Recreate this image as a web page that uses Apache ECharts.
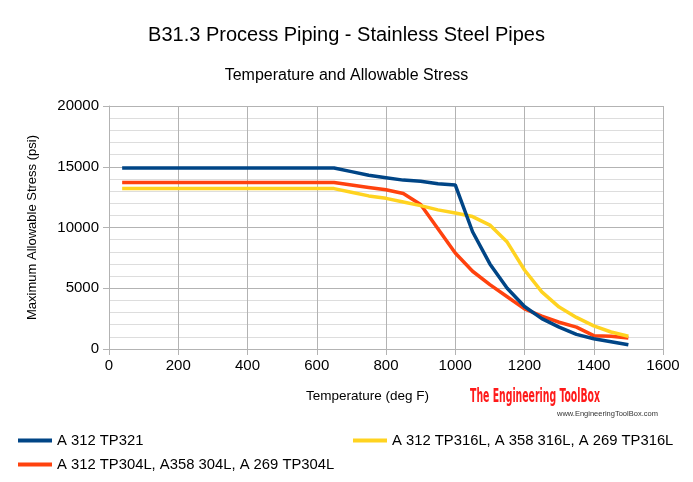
<!DOCTYPE html>
<html><head><meta charset="utf-8">
<script src="https://cdn.jsdelivr.net/npm/echarts@6/dist/echarts.min.js"></script>
<style>html,body{margin:0;padding:0;background:#fff}#c{width:693px;height:482px}</style>
</head><body><div id="c"></div>
<script>
const temps = [38,100,200,300,400,500,600,650,700,750,800,850,900,950,1000,1050,1100,1150,1200,1250,1300,1350,1400,1450,1500];
const tp321 = [14900,14900,14900,14900,14900,14900,14900,14900,14600,14300,14100,13900,13800,13600,13500,9650,7000,5000,3500,2500,1800,1200,840,600,350];
const tp304L = [13700,13700,13700,13700,13700,13700,13700,13700,13500,13300,13100,12800,11900,9900,7900,6400,5300,4300,3300,2700,2200,1800,1100,1050,900];
const tp316L = [13200,13200,13200,13200,13200,13200,13200,13200,12900,12600,12400,12100,11800,11450,11200,10900,10200,8800,6500,4700,3450,2600,1900,1400,1050];
const seriesNames = ['A 312 TP321','A 312 TP304L, A358 304L, A 269 TP304L','A 312 TP316L, A 358 316L, A 269 TP316L'];
const colors = ['#004586','#ff420e','#ffd320'];
const xTicks = [0,200,400,600,800,1000,1200,1400,1600];
const yTicks = [0,5000,10000,15000,20000];

const FONT = '"Liberation Sans", Arial, sans-serif';
const chart = echarts.init(document.getElementById('c'), null, {renderer:'canvas'});
const mk = (vals) => temps.map((t,i)=>[t, vals[i]]);
const allVals = [tp321, tp304L, tp316L];
const legendPos = [{left:13, top:428}, {left:13, top:452}, {left:348, top:428}];
chart.setOption({
  animation:false,
  backgroundColor:'#fff',
  title:[
    {text:'B31.3 Process Piping - Stainless Steel Pipes', left:'center', top:20, textStyle:{fontFamily:FONT, fontSize:20, fontWeight:'normal', color:'#000'}},
    {text:'Temperature and Allowable Stress', left:'center', top:63, textStyle:{fontFamily:FONT, fontSize:16, fontWeight:'normal', color:'#000'}}
  ],
  grid:{left:109, right:30, top:106, bottom:133},
  xAxis:{type:'value', min:xTicks[0], max:xTicks[xTicks.length-1], interval:200,
    axisLine:{lineStyle:{color:'#b3b3b3'}},
    axisTick:{show:true, inside:false, length:6, lineStyle:{color:'#b3b3b3'}},
    axisLabel:{fontFamily:FONT, fontSize:15, color:'#000', margin:9, formatter:(v)=>String(v)},
    splitLine:{show:true, lineStyle:{color:'#b3b3b3', width:1}}
  },
  yAxis:{type:'value', min:yTicks[0], max:yTicks[yTicks.length-1], interval:5000,
    name:'Maximum Allowable Stress (psi)', nameLocation:'middle', nameGap:70,
    nameTextStyle:{fontFamily:FONT, fontSize:13, color:'#000'},
    axisLine:{show:true, lineStyle:{color:'#b3b3b3'}},
    axisTick:{show:true, inside:false, length:6, lineStyle:{color:'#b3b3b3'}},
    axisLabel:{fontFamily:FONT, fontSize:15, color:'#000', margin:10, formatter:(v)=>String(v)},
    splitLine:{show:true, lineStyle:{color:'#b3b3b3', width:1}},
    minorTick:{show:false, splitNumber:5},
    minorSplitLine:{show:true, lineStyle:{color:'#dddddd', width:1}}
  },
  legend: seriesNames.map((n,i)=>({
    data:[n], left:legendPos[i].left, top:legendPos[i].top, icon:'rect', itemWidth:34, itemHeight:4, itemGap:6,
    textStyle:{fontFamily:FONT, fontSize:14.8, color:'#000', padding:[0,0,0,0]}
  })),
  series: seriesNames.map((n,i)=>({
    name:n, type:'line', data:mk(allVals[i]), showSymbol:false, symbol:'none',
    lineStyle:{color:colors[i], width:3.5}, itemStyle:{color:colors[i]}, z: 3 - (i===0?0:1)
  })),
  graphic:[
    {type:'text', left:306, top:389, style:{text:'Temperature (deg F)', font:'13.5px '+FONT, fill:'#000'}},
    {type:'text', x:470, y:387, scaleX:0.52, style:{text:'The Engineering ToolBox', font:'bold 20px "DejaVu Sans Condensed", "DejaVu Sans", sans-serif', fill:'#ff1a1a'}},
    {type:'text', x:557, y:410, style:{text:'www.EngineeringToolBox.com', font:'7.5px '+FONT, fill:'#333'}}
  ]
});
</script></body></html>
